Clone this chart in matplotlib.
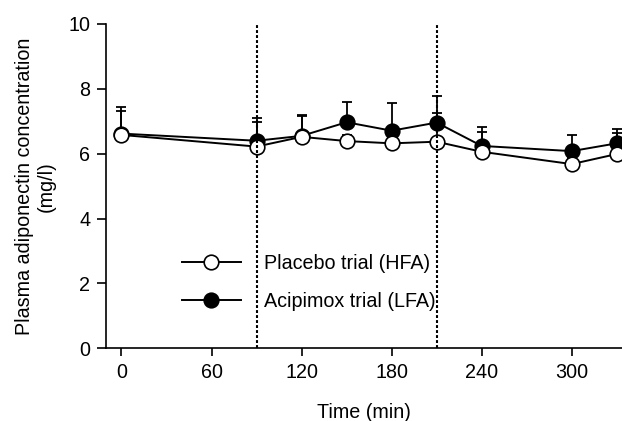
import matplotlib.pyplot as plt
import numpy as np

plt.rcParams['font.family'] = ['Liberation Sans', 'DejaVu Sans']

# data
time_min = [0, 90, 120, 150, 180, 210, 240, 300, 330]
placebo_mean = [6.58, 6.22, 6.52, 6.39, 6.32, 6.37, 6.06, 5.68, 5.99]
placebo_se = [0.75, 0.76, 0.65, 0.20, 0.20, 0.88, 0.62, 0.20, 0.65]
acipimox_mean = [6.62, 6.40, 6.55, 6.97, 6.71, 6.96, 6.24, 6.08, 6.32]
acipimox_se = [0.83, 0.69, 0.64, 0.61, 0.84, 0.82, 0.57, 0.50, 0.43]
trial_marks = [90, 210]
x_ticks = [0, 60, 120, 180, 240, 300]
y_ticks = [0, 2, 4, 6, 8, 10]

fs = 14.2
fig = plt.figure(figsize=(6.22, 4.21), dpi=100)
ax = fig.add_axes([0.170, 0.1727, 0.830, 0.7703])

# upper error bars only
ax.errorbar(time_min, acipimox_mean,
            yerr=[np.zeros(len(acipimox_se)), acipimox_se],
            fmt='none', ecolor='black', elinewidth=1.3, capsize=3.4,
            capthick=1.3, zorder=2)
ax.errorbar(time_min, placebo_mean,
            yerr=[np.zeros(len(placebo_se)), placebo_se],
            fmt='none', ecolor='black', elinewidth=1.3, capsize=3.4,
            capthick=1.3, zorder=2)

ax.plot(time_min, acipimox_mean, color='black', lw=1.4, marker='o',
        markersize=10.5, markerfacecolor='black', markeredgecolor='black',
        markeredgewidth=1.2, label='Acipimox trial (LFA)', zorder=3,
        clip_on=False)
ax.plot(time_min, placebo_mean, color='black', lw=1.4, marker='o',
        markersize=10.5, markerfacecolor='white', markeredgecolor='black',
        markeredgewidth=1.2, label='Placebo trial (HFA)', zorder=4,
        clip_on=False)

for t in trial_marks:
    ax.axvline(t, color='black', lw=1.5, linestyle=(0, (1.4, 1.0)), zorder=5)

ax.set_xlim(-10.5, 333.5)
ax.set_ylim(0, 10)
ax.set_xticks(x_ticks)
ax.set_yticks(y_ticks)
ax.tick_params(axis='both', direction='out', width=1.2, labelsize=fs,
               colors='black')
ax.tick_params(axis='x', length=6, pad=4.5)
ax.tick_params(axis='y', length=6.5, pad=4.5)

for side in ['top', 'right']:
    ax.spines[side].set_visible(False)
for side in ['left', 'bottom']:
    ax.spines[side].set_linewidth(1.2)

ax.set_xlabel('Time (min)', fontsize=fs, labelpad=15)
ax.set_ylabel('Plasma adiponectin concentration\n(mg/l)', fontsize=fs,
              labelpad=9)

handles, labels = ax.get_legend_handles_labels()
ax.legend(handles[::-1], labels[::-1], loc='center left',
          bbox_to_anchor=(0.147, 0.203), frameon=False, fontsize=fs,
          handlelength=3.0, handletextpad=1.2, labelspacing=1.0,
          borderpad=0, borderaxespad=0)

fig.savefig('out.png', dpi=100)
